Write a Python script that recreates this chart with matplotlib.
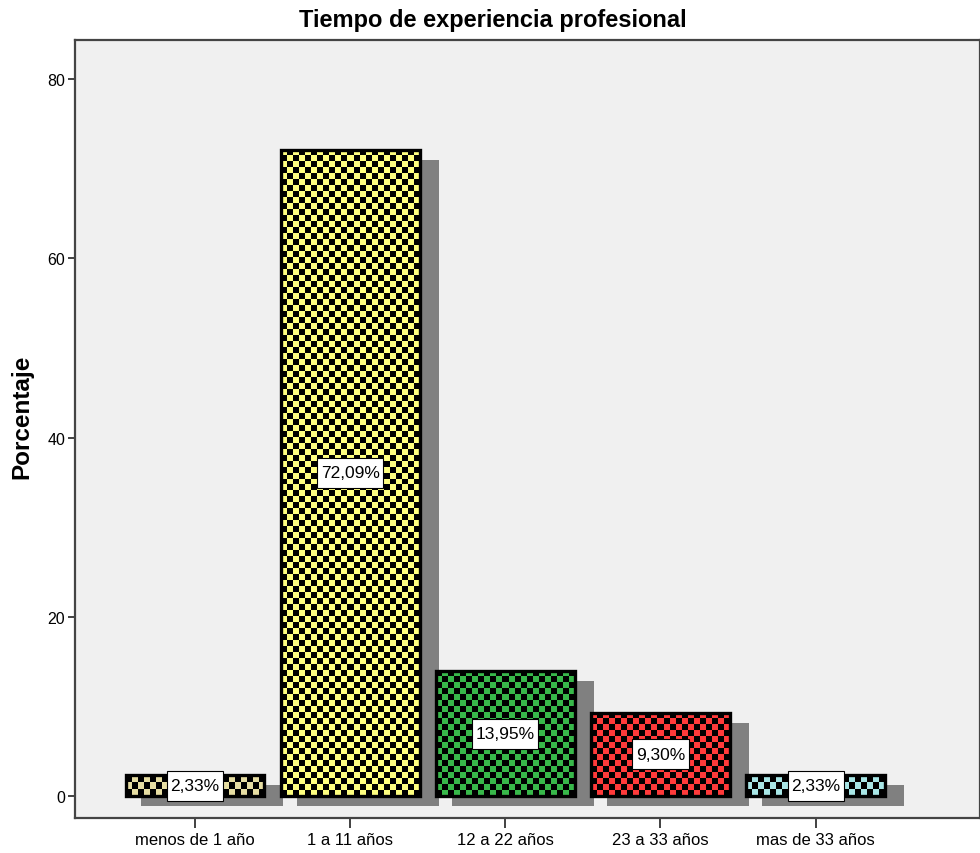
import numpy as np
import matplotlib.pyplot as plt
from matplotlib.patches import Rectangle
from matplotlib import font_manager

# data
categories = ['menos de 1 año', '1 a 11 años', '12 a 22 años', '23 a 33 años', 'mas de 33 años']
values = [2.33, 72.09, 13.95, 9.30, 2.33]
labels = ['2,33%', '72,09%', '13,95%', '9,30%', '2,33%']
colors = ['#E6DDA2', '#FFFF80', '#38B84A', '#FF3A3A', '#A8E6E6']
yticks = [0, 20, 40, 60, 80]

names = {f.name for f in font_manager.fontManager.ttflist}
narrow = 'Liberation Sans Narrow' if 'Liberation Sans Narrow' in names else 'Liberation Sans'
plt.rcParams['font.family'] = [narrow, 'DejaVu Sans']

fig = plt.figure(figsize=(9.8, 8.54), dpi=100)
ax = fig.add_axes([75 / 980, 35 / 854, 1 - 75 / 980, (819 - 41) / 854])
ax.set_facecolor('#F0F0F0')

x = np.arange(len(categories))
width = 0.895
xlim = (-0.774, 5.06)
ylim = (-2.45, 84.35)
ax.set_xlim(*xlim)
ax.set_ylim(*ylim)

# pixel size of one data unit, used for the checker cells
ax_w = 980 - 75
ax_h = 819 - 41
px_x = ax_w / (xlim[1] - xlim[0])
px_y = ax_h / (ylim[1] - ylim[0])
cell = 6.0

# drop shadows
ax.bar(x + 0.112, values, width=width + 0.02, bottom=-1.15, color='#808080',
       edgecolor='none', zorder=1)

# coloured bars
bars = ax.bar(x, values, width=width, color=colors, edgecolor='none', zorder=2)

for b in bars:
    bx, by = b.get_x(), b.get_y()
    bw, bh = b.get_width(), b.get_height()
    nx = max(1, int(round(bw * px_x / cell)))
    ny = max(1, int(round(bh * px_y / cell)))
    ii, jj = np.indices((ny, nx))
    mask = (ii + jj) % 2 == 0
    img = np.zeros((ny, nx, 4))
    img[..., 3] = mask.astype(float)
    im = ax.imshow(img, extent=(bx, bx + bw, by, by + bh), origin='lower',
                   interpolation='nearest', aspect='auto', zorder=3)
    im.set_clip_path(b)

# black outlines on top
ax.bar(x, values, width=width, color='none', edgecolor='black', linewidth=2.4, zorder=4)

texts = []
for xi, v, lab in zip(x, values, labels):
    texts.append(ax.text(xi, v / 2, lab, ha='center', va='center', fontsize=12.5, zorder=6))

ax.set_xlim(*xlim)
ax.set_ylim(*ylim)

ax.set_xticks(x)
ax.set_xticklabels(categories, fontsize=12)
ax.set_yticks(yticks)
ax.set_yticklabels([str(t) for t in yticks], fontsize=11.5)
ax.tick_params(axis='x', length=7, width=1.3, color='#333333', pad=3)
ax.tick_params(axis='y', length=5, width=1.3, color='#333333', pad=2)

for side in ['left', 'top', 'bottom', 'right']:
    ax.spines[side].set_color('#444444')
    ax.spines[side].set_linewidth(1.6)

ax.set_ylabel('Porcentaje', fontsize=17.5, fontweight='bold',
              family=['Liberation Sans', 'DejaVu Sans'])
ax.yaxis.set_label_coords(-0.046, 0.517)
fig.text(0.503, 1 - 20 / 854, 'Tiempo de experiencia profesional', ha='center', va='center',
         fontsize=17, fontweight='bold')

# white label boxes, a bit taller than the text
fig.canvas.draw()
inv = ax.transData.inverted()
for t in texts:
    bb = t.get_window_extent()
    cx = (bb.x0 + bb.x1) / 2
    cy = (bb.y0 + bb.y1) / 2
    (x0, y0) = inv.transform((cx - bb.width / 2 - 3.5, cy - 15))
    (x1, y1) = inv.transform((cx + bb.width / 2 + 3.5, cy + 15))
    ax.add_patch(Rectangle((x0, y0), x1 - x0, y1 - y0, facecolor='white',
                           edgecolor='black', linewidth=0.8, zorder=5))

fig.savefig('out.png', dpi=100)
